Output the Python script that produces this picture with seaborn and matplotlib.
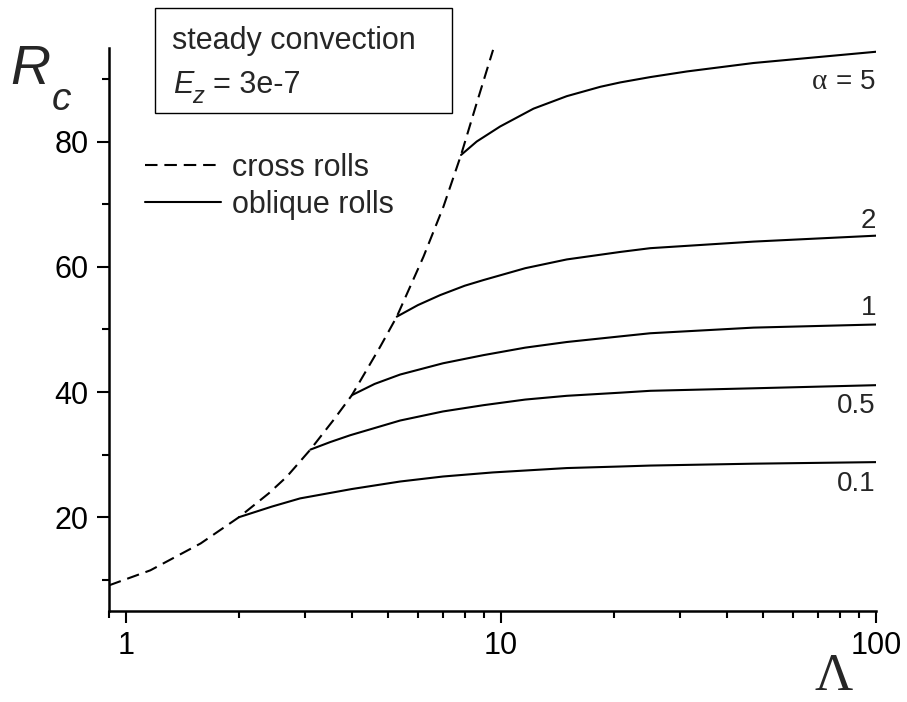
import matplotlib
matplotlib.use("Agg")
import matplotlib.pyplot as plt
from matplotlib.lines import Line2D
from matplotlib.patches import Rectangle
from matplotlib.ticker import MultipleLocator, NullFormatter, LogLocator
import seaborn as sns
import pandas as pd

# Critical Rayleigh number of cross rolls versus Elsasser number
cross_lambda = [0.9, 1.16, 1.58, 2.0, 2.4, 2.68, 3.1, 3.57, 4.0, 4.76, 5.27, 6.21, 7.02, 7.82, 8.61, 9.52]
cross_rc = [9.1, 11.5, 15.8, 20.0, 23.8, 26.45, 30.8, 35.5, 39.5, 47.25, 52.05, 61.65, 69.65, 77.9, 86.2, 94.7]

# Oblique rolls, one branch per aspect ratio alpha
alpha_labels = ["0.1", "0.5", "1", "2", "5"]
oblique_lambda_01 = [2.0, 2.45, 2.91, 4.0, 5.38, 7.0, 9.5, 14.97, 20.8, 25.0, 47.1, 100.0]
oblique_rc_01 = [20.0, 21.7, 23.0, 24.5, 25.7, 26.5, 27.15, 27.85, 28.1, 28.25, 28.55, 28.8]
oblique_lambda_05 = [3.1, 3.5, 3.96, 5.38, 7.0, 8.97, 11.6, 14.97, 20.8, 25.0, 47.1, 100.0]
oblique_rc_05 = [30.8, 32.0, 33.1, 35.45, 36.9, 37.9, 38.8, 39.4, 39.9, 40.2, 40.6, 41.1]
oblique_lambda_1 = [4.0, 4.6, 5.38, 7.0, 8.97, 11.6, 14.97, 20.8, 25.0, 47.1, 100.0]
oblique_rc_1 = [39.5, 41.3, 42.8, 44.6, 45.9, 47.1, 48.0, 48.9, 49.4, 50.3, 50.8]
oblique_lambda_2 = [5.27, 6.0, 6.88, 8.0, 8.97, 11.6, 14.97, 20.8, 25.0, 47.1, 100.0]
oblique_rc_2 = [52.05, 53.9, 55.5, 57.0, 57.9, 59.8, 61.2, 62.4, 63.0, 64.05, 65.0]
oblique_lambda_5 = [7.82, 8.61, 9.94, 12.2, 14.97, 18.4, 20.8, 25.0, 31.3, 47.1, 100.0]
oblique_rc_5 = [77.9, 80.05, 82.45, 85.3, 87.3, 88.8, 89.5, 90.35, 91.25, 92.6, 94.4]

x_ticks = [1, 10, 100]
x_tick_labels = ["1", "10", "100"]
y_ticks = [20, 40, 60, 80]

sns.set_theme(style="ticks")
plt.rcParams["font.family"] = ["Liberation Sans", "DejaVu Sans"]
plt.rcParams["lines.scale_dashes"] = True

W, H = 907, 702
fig = plt.figure(figsize=(W / 100, H / 100), dpi=100)


def fx(px):
    return px / W


def fy(py):
    return 1 - py / H


ax = fig.add_axes([fx(109), fy(611), fx(876) - fx(109), fy(48) - fy(611)])

oblique = pd.concat([
    pd.DataFrame({"Lambda": lam, "Rc": rc, "alpha": a})
    for a, lam, rc in zip(
        alpha_labels,
        [oblique_lambda_01, oblique_lambda_05, oblique_lambda_1, oblique_lambda_2, oblique_lambda_5],
        [oblique_rc_01, oblique_rc_05, oblique_rc_1, oblique_rc_2, oblique_rc_5],
    )
])
cross = pd.DataFrame({"Lambda": cross_lambda, "Rc": cross_rc})

lw = 1.5
dash = (6.0, 3.3)
sns.lineplot(data=cross, x="Lambda", y="Rc", sort=False, estimator=None,
             color="black", lw=lw, ax=ax, legend=False)
ax.lines[-1].set_dashes(dash)
for a in alpha_labels:
    sub = oblique[oblique["alpha"] == a]
    sns.lineplot(data=sub, x="Lambda", y="Rc", sort=False, estimator=None,
                 color="black", lw=lw, ax=ax, legend=False)
for ln in ax.lines:
    ln.set_solid_joinstyle("round")
    ln.set_dash_joinstyle("round")

ax.set_xscale("log")
ax.set_xlim(0.9, 100)
ax.set_ylim(5, 95)
ax.set_xticks(x_ticks, labels=x_tick_labels)
ax.xaxis.set_minor_locator(LogLocator(base=10, subs=range(2, 10)))
ax.xaxis.set_minor_formatter(NullFormatter())
ax.set_yticks(y_ticks)
ax.yaxis.set_minor_locator(MultipleLocator(10))

sns.despine(ax=ax)
for s in ("left", "bottom"):
    ax.spines[s].set_linewidth(1.8)
    ax.spines[s].set_color("black")
ax.tick_params(which="major", direction="out", length=8.5, width=1.5, color="black",
               labelsize=22, pad=6, labelcolor="black")
ax.tick_params(which="minor", direction="out", length=5, width=1.5, color="black")
ax.set_xlabel("")
ax.set_ylabel("")

# Axis titles
fig.text(fx(834), fy(690), "Λ", family=["Liberation Serif", "DejaVu Serif"], fontsize=38,
         ha="center", va="baseline")
fig.text(fx(10), fy(84), "R", style="italic", fontsize=40, ha="left", va="baseline")
fig.text(fx(52), fy(110), "c", style="italic", fontsize=28, ha="left", va="baseline")

# Branch labels at the right end
label_rc = {"0.1": 25.3, "0.5": 37.7, "1": 53.5, "2": 67.3}
for a, yv in label_rc.items():
    ax.text(100, yv, a, ha="right", va="center", fontsize=20)
ax.text(100, 89.6, "= 5", ha="right", va="center", fontsize=20)
ax.annotate("α", xy=(100, 89.6), xytext=(-35, 0), textcoords="offset points",
            ha="right", va="center", fontsize=21, family=["Liberation Serif", "DejaVu Serif"])

# Parameter box
fig.patches.append(Rectangle((fx(155), fy(113)), fx(452) - fx(155), fy(8) - fy(113),
                             transform=fig.transFigure, fill=False, lw=1.0, ec="black"))
fig.text(fx(172), fy(49), "steady convection", fontsize=22, ha="left", va="baseline")
fig.text(fx(173), fy(93), "E", style="italic", fontsize=22, ha="left", va="baseline")
fig.text(fx(192), fy(103), "z", style="italic", fontsize=17, ha="left", va="baseline")
fig.text(fx(213), fy(93), "= 3e-7", fontsize=22, ha="left", va="baseline")

# Legend
handles = [
    Line2D([], [], color="black", lw=lw, dashes=dash),
    Line2D([], [], color="black", lw=lw),
]
fig.legend(handles, ["cross rolls", "oblique rolls"], loc="upper left",
           bbox_to_anchor=(fx(145), fy(153)), frameon=False, fontsize=22,
           handlelength=2.5, handletextpad=0.35, labelspacing=0.23,
           borderpad=0, borderaxespad=0)

fig.savefig("out.png", dpi=100)
